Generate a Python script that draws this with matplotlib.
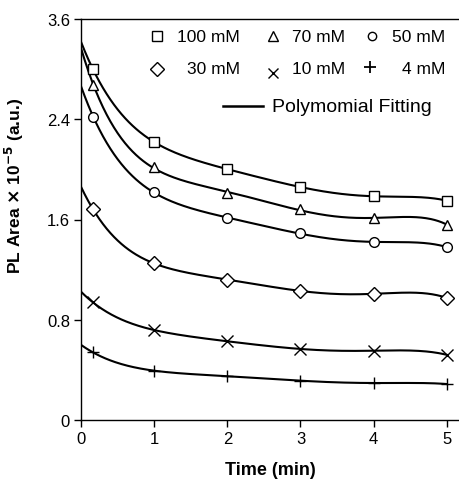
import numpy as np
import matplotlib
matplotlib.use("Agg")
import matplotlib.pyplot as plt

plt.rcParams['font.family'] = ['Liberation Sans', 'DejaVu Sans']

time = [0.16, 1, 2, 3, 4, 5]
labels = ["100 mM", "70 mM", "50 mM", "30 mM", "10 mM", "4 mM"]
markers = ["s", "^", "o", "D", "x", "+"]
pl_100 = [2.80, 2.22, 2.00, 1.86, 1.785, 1.75]
pl_70 = [2.67, 2.02, 1.81, 1.68, 1.61, 1.56]
pl_50 = [2.42, 1.82, 1.61, 1.49, 1.42, 1.38]
pl_30 = [1.68, 1.253, 1.117, 1.032, 1.006, 0.974]
pl_10 = [0.94, 0.718, 0.628, 0.567, 0.553, 0.52]
pl_4 = [0.54, 0.394, 0.349, 0.314, 0.295, 0.287]
# value of the fitted curve where it meets the y axis (t = 0)
fit_start = [3.02, 2.98, 2.67, 1.865, 1.024, 0.60]
series = [pl_100, pl_70, pl_50, pl_30, pl_10, pl_4]
fit_label = "Polymomial Fitting"

yticks = [0, 0.8, 1.6, 2.4, 3.2]
ytick_labels = ["0", "0.8", "1.6", "2.4", "3.6"]
xticks = [0, 1, 2, 3, 4, 5]

W, H = 460, 481
AX_L, AX_R, AX_B, AX_T = 81, 460, 421, 20
fig = plt.figure(figsize=(W/100, H/100), dpi=100)
ax = fig.add_axes([AX_L/W, 1-AX_B/H, (AX_R-AX_L)/W, (AX_B-AX_T)/H])

def axfrac(px, py):
    return (px-AX_L)/(AX_R-AX_L), (AX_B-py)/(AX_B-AX_T)

tt = np.linspace(0, 5, 300)
msizes = [7.5, 7.5, 7.0, 7.0, 8, 8]
for vals, m, s0, ms in zip(series, markers, fit_start, msizes):
    tx = np.array([0] + time)
    vy = np.array([s0] + vals)
    coef = np.polyfit(tx, vy, 5)
    ax.plot(tt, np.polyval(coef, tt), color='black', lw=1.5, zorder=2)
    ax.plot(time, vals, linestyle='none', marker=m, ms=ms, mfc='white',
            mec='black', mew=1.0, zorder=3)

ax.set_xlim(0, 5.18)
ax.set_ylim(0, 3.2)
ax.set_yticks(yticks)
ax.set_yticklabels(ytick_labels)
ax.set_xticks(xticks)
ax.tick_params(direction='out', length=5, width=1, labelsize=12, colors='black', pad=3)
ax.spines['right'].set_visible(False)
for s in ['left', 'bottom', 'top']:
    ax.spines[s].set_linewidth(1.0)
ax.set_xlabel("Time (min)", fontsize=13, fontweight='bold', labelpad=11)
ax.set_ylabel("PL Area $\\mathbf{\\times}$ 10$^{\\mathbf{-5}}$ (a.u.)", fontsize=12.5,
              fontweight='bold')
ax.yaxis.set_label_coords(-0.145, axfrac(0, 186)[1])

# legend keys (layout positions in pixels of the original)
key_marker_px = [(157, 37), (273, 37), (372, 37), (157, 70), (273, 74), (370, 68)]
key_text_right_px = [(240, 37), (345, 37), (445, 37), (240, 70), (345, 70), (445, 70)]
key_ms = [7.5, 6.5, 6.0, 7.0, 7.0, 9.0]
for i in range(6):
    mx, my = axfrac(*key_marker_px[i])
    ax.plot([mx], [my], transform=ax.transAxes, marker=markers[i], ms=key_ms[i],
            mfc='white', mec='black', mew=1.3 if markers[i] == '+' else 1.0,
            linestyle='none', clip_on=False, zorder=4)
    tx, ty = axfrac(*key_text_right_px[i])
    ax.text(tx, ty, labels[i], transform=ax.transAxes, ha='right', va='center',
            fontsize=12.5, zorder=4)
l0 = axfrac(223, 107)
l1 = axfrac(263, 107)
ax.plot([l0[0], l1[0]], [l0[1], l1[1]], transform=ax.transAxes, color='black',
        lw=1.8, clip_on=False)
t0 = axfrac(272, 107)
ax.text(t0[0], t0[1], fit_label, transform=ax.transAxes, ha='left', va='center',
        fontsize=14)

fig.savefig("out.png", dpi=100)
